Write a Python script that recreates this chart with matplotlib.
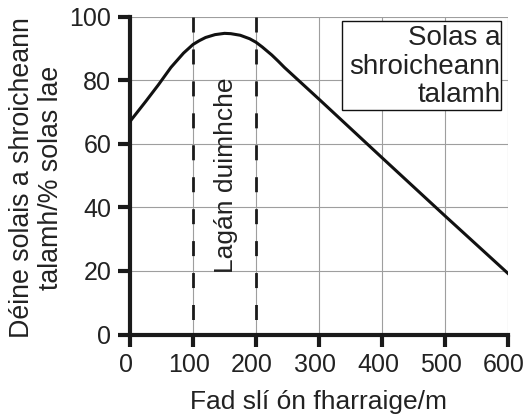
import matplotlib
matplotlib.use("Agg")
import matplotlib.pyplot as plt
import matplotlib.transforms as mtransforms
from matplotlib.patches import Rectangle

# distance from sea (m) and light reaching ground (% of daylight)
dist = [0, 25, 45, 65, 85, 100, 110, 120, 135, 150, 160, 175, 190, 200, 210,
        225, 235, 245, 300, 400, 500, 600]
light = [67, 73.3, 78.5, 84, 88.5, 91.2, 92.4, 93.4, 94.3, 94.7, 94.6, 94.1, 93.0,
         91.9, 90.4, 87.9, 86.0, 84, 74, 55.6, 37.3, 19.2]

xticks = [0, 100, 200, 300, 400, 500, 600]
yticks = [0, 20, 40, 60, 80, 100]
slack_edges = [100, 200]  # dune slack boundaries

plt.rcParams["font.family"] = ["Liberation Sans", "DejaVu Sans"]
txt = "#222222"

fig = plt.figure(figsize=(5.27, 4.18), dpi=100)
ax = fig.add_axes([130 / 527, 1 - 334.5 / 418, 378 / 527, 318 / 418])

ax.set_xlim(0, 600)
ax.set_ylim(0, 100)
ax.set_xticks(xticks)
ax.set_yticks(yticks)
ax.grid(True, color="#9e9e9e", lw=0.8, zorder=0)
ax.set_axisbelow(True)

for s in ["top", "right"]:
    ax.spines[s].set_visible(False)
for s in ["left", "bottom"]:
    ax.spines[s].set_linewidth(3)
    ax.spines[s].set_color("#1a1a1a")
ax.tick_params(direction="out", length=8.5, width=3, color="#1a1a1a",
               labelsize=18, labelcolor=txt, pad=5)

# labels in the original sit a little left of their ticks
shift = mtransforms.ScaledTranslation(-4 / 100, 0, fig.dpi_scale_trans)
for lab in ax.get_xticklabels():
    lab.set_transform(lab.get_transform() + shift)

for xe in slack_edges:
    ax.plot([xe, xe], [100, 0], color="#1a1a1a", lw=2, dashes=(5.4, 6.1), zorder=2)

ax.plot(dist, light, color="#111111", lw=2.2, solid_joinstyle="round", zorder=3)

ax.text(153, 50, "Lagán duimhche", rotation=90, ha="center", va="center",
        fontsize=19, color=txt, zorder=4)

ax.add_patch(Rectangle((0.560, 0.706), 0.421, 0.280, transform=ax.transAxes,
                       facecolor="white", edgecolor="#111111", lw=1, zorder=5))
ax.text(0.980, 0.842, "Solas a\nshroicheann\ntalamh", transform=ax.transAxes,
        ha="right", va="center", multialignment="right", fontsize=20,
        linespacing=1.12, color=txt, zorder=6)

ax.set_xlabel("Fad slí ón fharraige/m", fontsize=19, color=txt, labelpad=9)
fig.text(37 / 527, 1 - 178 / 418, "Déine solais a shroicheann\ntalamh/% solas lae",
         rotation=90, ha="center", va="center", multialignment="center",
         fontsize=19.3, linespacing=1.15, color=txt)

fig.savefig("out.png", dpi=100)
